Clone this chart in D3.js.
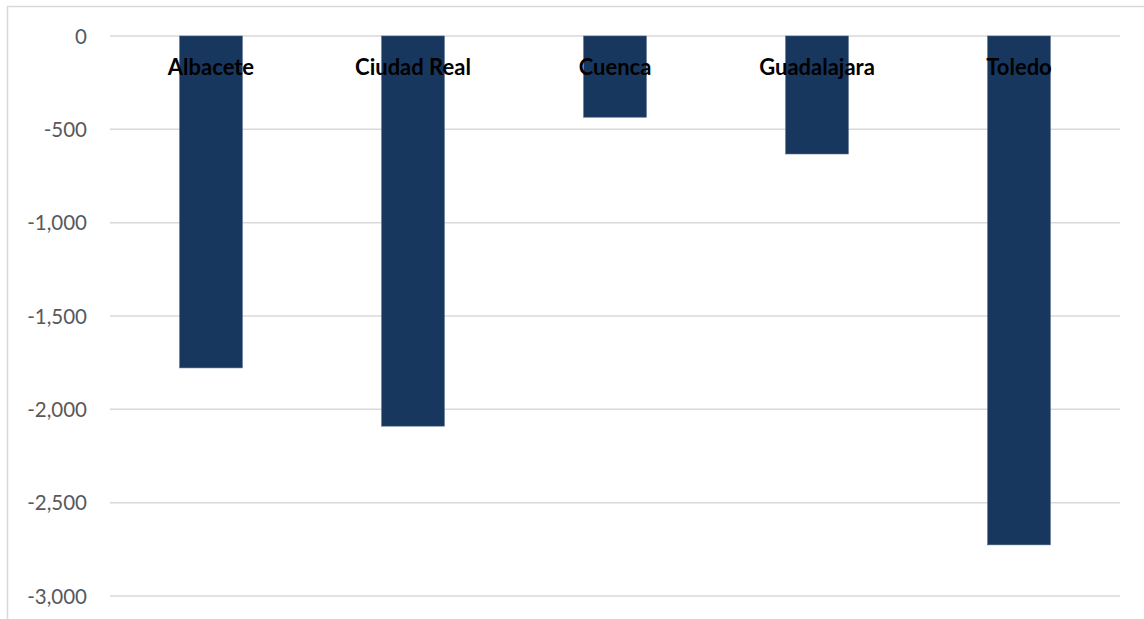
<!DOCTYPE html>
<html><head><meta charset="utf-8">
<script src="https://cdn.jsdelivr.net/npm/d3@7"></script>
<style>html,body{margin:0;padding:0;background:#fff;}svg{display:block;}</style>
</head><body>
<svg id="chart" width="1144" height="619"></svg>
<script>
const categories = ["Albacete", "Ciudad Real", "Cuenca", "Guadalajara", "Toledo"];
const values = [-1778, -2090, -435, -632, -2726];
const yTicks = [0, -500, -1000, -1500, -2000, -2500, -3000];

const svg = d3.select("#chart");
const W = 1144, H = 619;
const m = {left: 110, right: 24, top: 36, bottom: 23};

// outer border
svg.append("path").attr("d", `M7.5,${H} V6.5 H${W}`)
  .attr("fill", "none").attr("stroke", "#d9d9d9").attr("stroke-width", 1.5);

const x = d3.scaleBand().domain(categories).range([m.left, W - m.right])
  .paddingInner(0.69).paddingOuter(0.345);
const y = d3.scaleLinear().domain([0, -3000]).range([m.top, H - m.bottom]);

// gridlines
svg.append("g").selectAll("line").data(yTicks).join("line")
  .attr("x1", m.left).attr("x2", W - m.right)
  .attr("y1", d => y(d)).attr("y2", d => y(d))
  .attr("stroke", "#d9d9d9").attr("stroke-width", 1.5);

// y axis labels
const fmt = d3.format(",");
const yAxis = d3.axisLeft(y).tickValues(yTicks).tickSize(0).tickPadding(0)
  .tickFormat(d => fmt(d).replace("\u2212", "-"));
const ga = svg.append("g").attr("transform", "translate(87,0)").call(yAxis);
ga.select(".domain").remove();
ga.selectAll("text").attr("font-family", "Lato, sans-serif").attr("font-size", 20.5)
  .attr("fill", "#595959").attr("dy", "0.35em");

// bars
svg.append("g").selectAll("rect").data(categories).join("rect")
  .attr("x", d => x(d)).attr("width", x.bandwidth())
  .attr("y", y(0)).attr("height", (d, i) => y(values[i]) - y(0))
  .attr("fill", "#18375e").attr("stroke", "#4a6283").attr("stroke-width", 0.6);

// category labels
svg.append("g").selectAll("text").data(categories).join("text")
  .attr("x", d => x(d) + x.bandwidth() / 2).attr("y", 75)
  .attr("text-anchor", "middle").attr("font-family", "Lato, sans-serif")
  .attr("font-weight", "bold").attr("font-size", 22).attr("fill", "#000")
  .text(d => d);
</script>
</body></html>
